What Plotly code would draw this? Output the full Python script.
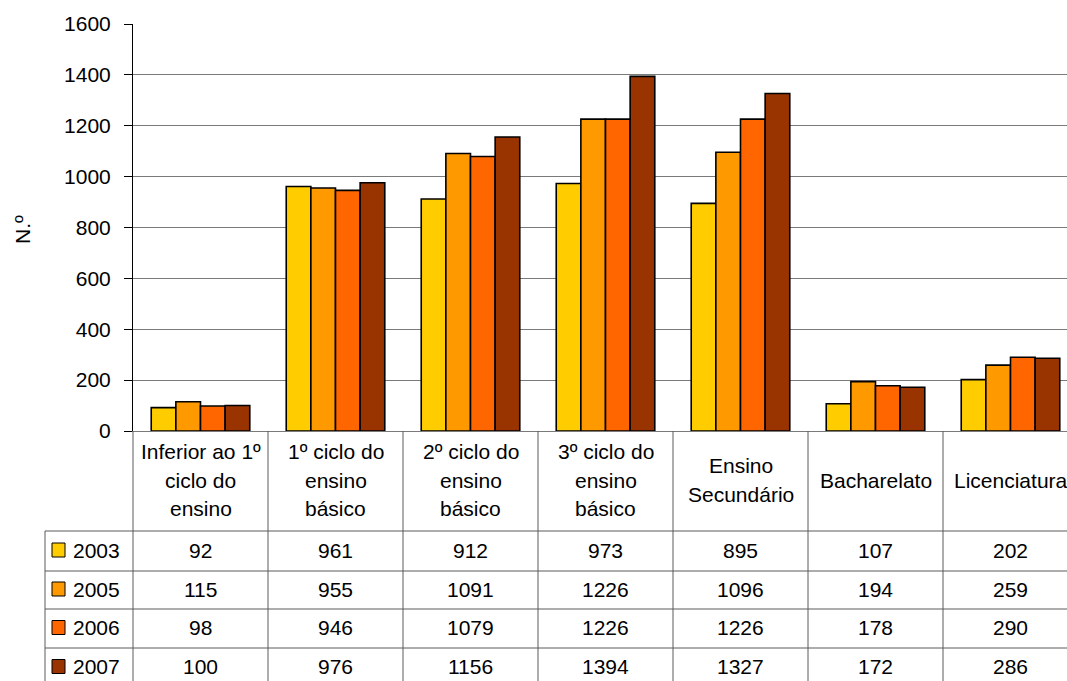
import plotly.graph_objects as go

# Education levels (x categories) and the wrapped header text shown in the table
categories = [
    "Inferior ao 1º ciclo do ensino",
    "1º ciclo do ensino básico",
    "2º ciclo do ensino básico",
    "3º ciclo do ensino básico",
    "Ensino Secundário",
    "Bacharelato",
    "Licenciatura",
]
header_lines = [
    ["Inferior ao 1º", "ciclo do", "ensino"],
    ["1º ciclo do", "ensino", "básico"],
    ["2º ciclo do", "ensino", "básico"],
    ["3º ciclo do", "ensino", "básico"],
    ["Ensino", "Secundário"],
    ["Bacharelato"],
    ["Licenciatura"],
]

years = ["2003", "2005", "2006", "2007"]
values_2003 = [92, 961, 912, 973, 895, 107, 202]
values_2005 = [115, 955, 1091, 1226, 1096, 194, 259]
values_2006 = [98, 946, 1079, 1226, 1226, 178, 290]
values_2007 = [100, 976, 1156, 1394, 1327, 172, 286]
series = [values_2003, values_2005, values_2006, values_2007]
colors = ["#FFCC00", "#FF9900", "#FF6600", "#993300"]

y_ticks = [0, 200, 400, 600, 800, 1000, 1200, 1400, 1600]

# Page geometry (pixels)
W, H = 1067, 681
L, T, B = 133, 24, 250
plot_w = W - L
plot_h = H - T - B
cat_w = 135                      # width of one category column
x_hi = -0.5 + plot_w / cat_w     # last column runs past the page edge

FONT = "Liberation Sans, Arial, sans-serif"
FS = 21
GRID = "#7a7a7a"
TABLE_LINE = "#5a5a5a"


def px_x(p):
    return (p - L) / plot_w


def px_y(p):
    return (H - B - p) / plot_h


fig = go.Figure()
for name, vals, col in zip(years, series, colors):
    fig.add_bar(
        x=categories, y=vals, name=name,
        marker=dict(color=col, line=dict(color="black", width=1.6)),
    )

shapes = []
annotations = []

# Table rows: header band 431-531, then one row per year
row_edges = [531, 571, 609, 648, 687]
table_left = 45

for y in row_edges[:-1]:
    shapes.append(dict(type="line", xref="paper", yref="paper",
                       x0=px_x(table_left), x1=1.0, y0=px_y(y), y1=px_y(y),
                       line=dict(color=TABLE_LINE, width=1)))
shapes.append(dict(type="line", xref="paper", yref="paper",
                   x0=px_x(table_left), x1=px_x(table_left),
                   y0=px_y(row_edges[0]), y1=px_y(H),
                   line=dict(color=TABLE_LINE, width=1)))
for i in range(len(categories)):
    xb = i + 0.5
    if xb < x_hi:
        shapes.append(dict(type="line", xref="x", yref="paper",
                           x0=xb, x1=xb, y0=0, y1=px_y(H),
                           line=dict(color=TABLE_LINE, width=1)))
shapes.append(dict(type="line", xref="paper", yref="paper",
                   x0=0, x1=0, y0=0, y1=px_y(H),
                   line=dict(color=TABLE_LINE, width=1)))

# Header cells
line_step = 28.5
header_mid = 480
for i, lines in enumerate(header_lines):
    n = len(lines)
    for k, txt in enumerate(lines):
        yc = header_mid + (k - (n - 1) / 2) * line_step
        annotations.append(dict(text=txt, xref="x", yref="paper", x=i, y=px_y(yc),
                                showarrow=False, xanchor="center", yanchor="middle",
                                font=dict(family=FONT, size=FS, color="black")))

# Value rows with legend keys
for r, (name, vals, col) in enumerate(zip(years, series, colors)):
    yc = (row_edges[r] + row_edges[r + 1]) / 2 - 1
    shapes.append(dict(type="rect", xref="paper", yref="paper",
                       x0=px_x(52), x1=px_x(65), y0=px_y(yc - 7), y1=px_y(yc + 7),
                       fillcolor=col, line=dict(color="black", width=1)))
    annotations.append(dict(text=name, xref="paper", yref="paper", x=px_x(71), y=px_y(yc),
                            showarrow=False, xanchor="left", yanchor="middle",
                            font=dict(family=FONT, size=FS, color="black")))
    for i, v in enumerate(vals):
        annotations.append(dict(text=str(v), xref="x", yref="paper", x=i, y=px_y(yc),
                                showarrow=False, xanchor="center", yanchor="middle",
                                font=dict(family=FONT, size=FS, color="black")))

# Y-axis title
annotations.append(dict(text="N.º", xref="paper", yref="paper", x=px_x(22), y=px_y(230),
                        showarrow=False, textangle=-90, xanchor="center", yanchor="middle",
                        font=dict(family=FONT, size=FS, color="black")))

fig.update_layout(
    width=W, height=H,
    margin=dict(l=L, r=0, t=T, b=B, pad=0),
    paper_bgcolor="white", plot_bgcolor="white",
    barmode="group", bargap=0.27, bargroupgap=0,
    showlegend=False,
    font=dict(family=FONT, size=FS, color="black"),
    shapes=shapes, annotations=annotations,
    xaxis=dict(range=[-0.5, x_hi], showticklabels=False, ticks="",
               showgrid=False, showline=True, linecolor=GRID, linewidth=1,
               zeroline=False, fixedrange=True),
    yaxis=dict(range=[0, 1600], tickvals=y_ticks, ticks="outside", ticklen=8,
               tickcolor="black", tickwidth=1, ticklabelstandoff=9,
               showgrid=True, gridcolor=GRID, gridwidth=1,
               showline=True, linecolor="black", linewidth=1,
               zeroline=False, tickfont=dict(family=FONT, size=FS, color="black")),
)

fig.write_html("out.html")
